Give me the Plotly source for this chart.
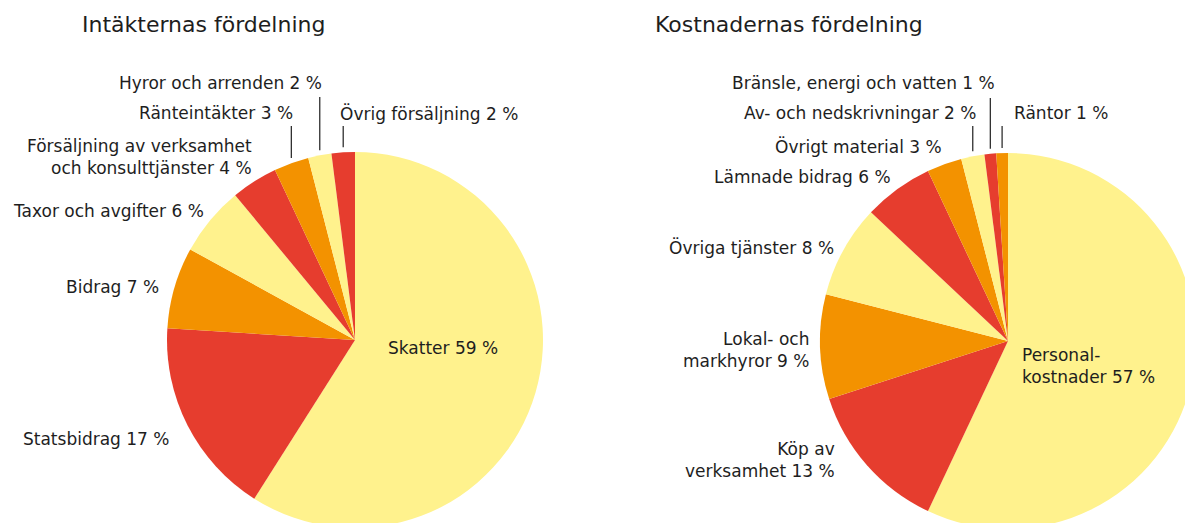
import math
import plotly.graph_objects as go

# ---------------- data ----------------
income_labels = ["Skatter", "Statsbidrag", "Bidrag", "Taxor och avgifter",
                 "Försäljning av verksamhet<br>och konsulttjänster",
                 "Ränteintäkter", "Hyror och arrenden", "Övrig försäljning"]
income_values = [59, 17, 7, 6, 4, 3, 2, 2]

cost_labels = ["Personal-<br>kostnader", "Köp av<br>verksamhet", "Lokal- och<br>markhyror",
               "Övriga tjänster", "Lämnade bidrag", "Övrigt material",
               "Av- och nedskrivningar", "Bränsle, energi och vatten", "Räntor"]
cost_values = [57, 13, 9, 8, 6, 3, 2, 1, 1]

titles = ["Intäkternas fördelning", "Kostnadernas fördelning"]

# ---------------- style / layout ----------------
W, H = 1200, 540
Y, R, O = "#FFF28D", "#E63D2E", "#F39200"
income_colors = [Y, R, O, Y, R, O, Y, R]
cost_colors = [Y, R, O, Y, R, O, Y, R, O]
TXT = "#1e1e1e"
FONT = "DejaVu Sans"

RAD = 188
centers = [(355, 340), (1008, 341)]

def px(x):
    return x / W

def py(y):
    return 1 - y / H

fig = go.Figure()
for vals, labs, cols, (cx, cy) in [(income_values, income_labels, income_colors, centers[0]),
                                   (cost_values, cost_labels, cost_colors, centers[1])]:
    fig.add_trace(go.Pie(
        values=vals, labels=labs, sort=False, direction="clockwise", rotation=0,
        marker=dict(colors=cols, line=dict(width=0)),
        textinfo="none", hoverinfo="label+value", showlegend=False,
        domain=dict(x=[px(cx - RAD), px(cx + RAD)], y=[py(cy + RAD), py(cy - RAD)]),
    ))

# label placement: (x px, y px center, xanchor, leader-line top y px or None)
income_pos = [(386, 348, "left", None), (172, 439, "right", None), (161, 287, "right", None),
              (206, 211, "right", None), (254, 157, "right", None), (295, 113, "right", 126),
              (324, 83, "right", 97), (338, 113, "left", 126)]
cost_pos = [(1020, 366, "left", None), (837, 460, "right", None), (811, 350, "right", None),
            (836, 247, "right", None), (893, 177, "right", None), (944, 146, "right", None),
            (978, 113, "right", 126), (997, 83, "right", 98), (1012, 113, "left", 126)]

annotations = []
shapes = []
for vals, labs, pos, (cx, cy) in [(income_values, income_labels, income_pos, centers[0]),
                                  (cost_values, cost_labels, cost_pos, centers[1])]:
    total = sum(vals)
    cum = 0
    for v, lab, (x, y, xa, ltop) in zip(vals, labs, pos):
        mid = (cum + v / 2) / total * 2 * math.pi
        cum += v
        annotations.append(dict(
            x=px(x), y=py(y), xref="paper", yref="paper", xanchor=xa, yanchor="middle",
            align=xa, showarrow=False, text=f"{lab} {v} %",
            font=dict(family=FONT, size=17, color=TXT)))
        if ltop is not None:
            lx = cx + RAD * math.sin(mid)
            edge = cy - RAD * math.cos(mid)
            shapes.append(dict(type="line", xref="paper", yref="paper",
                               x0=px(lx), x1=px(lx), y0=py(ltop), y1=py(edge - 5),
                               line=dict(color=TXT, width=1.2)))

for t, x in zip(titles, [80, 653]):
    annotations.append(dict(x=px(x), y=py(25), xref="paper", yref="paper", xanchor="left",
                            yanchor="middle", showarrow=False, text=t,
                            font=dict(family=FONT, size=22, color=TXT)))

fig.update_layout(
    width=W, height=H, margin=dict(l=0, r=0, t=0, b=0),
    paper_bgcolor="white", plot_bgcolor="white",
    annotations=annotations, shapes=shapes,
)

fig.write_html("out.html", config={"displayModeBar": False},
               post_script="document.body.style.margin='0';document.body.style.overflow='hidden';"
                           "document.documentElement.style.overflow='hidden';")
